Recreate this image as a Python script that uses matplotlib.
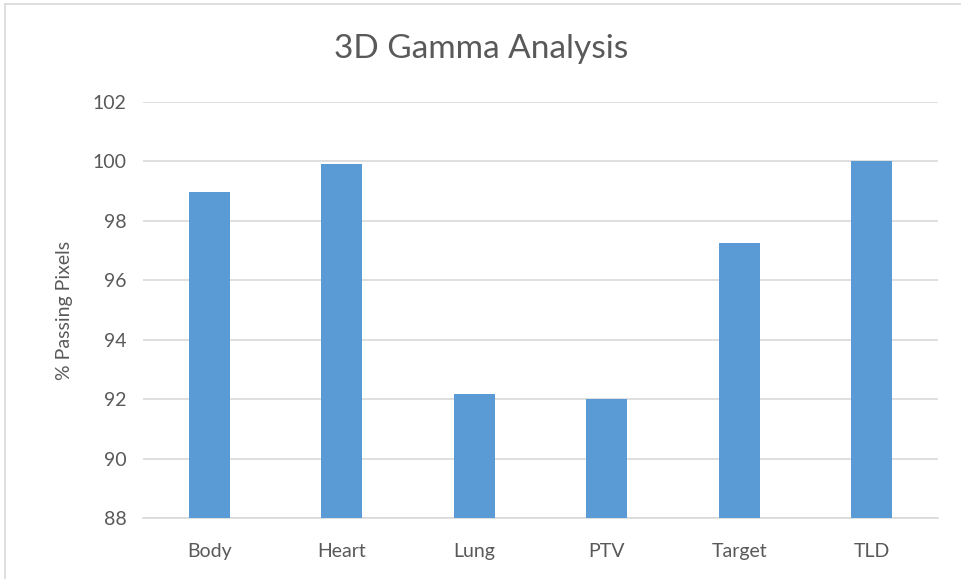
import matplotlib.pyplot as plt
from matplotlib.lines import Line2D

plt.rcParams['font.family'] = ['Lato', 'DejaVu Sans']

structures = ['Body', 'Heart', 'Lung', 'PTV', 'Target', 'TLD']
passing = [98.98, 99.93, 92.18, 92.02, 97.26, 100.0]
yticks = [88, 90, 92, 94, 96, 98, 100, 102]

text_grey = '#595959'

fig = plt.figure(figsize=(9.62, 5.79), dpi=100)
ax = fig.add_axes([143/962, 1 - 518/579, (938 - 143)/962, (518 - 102)/579])

ax.bar(range(len(structures)), passing, width=0.31, color='#5b9bd5', zorder=3)
ax.set_xlim(-0.5, len(structures) - 0.5)
ax.set_ylim(88, 102)
ax.set_yticks(yticks)
ax.set_xticks(range(len(structures)))
ax.set_xticklabels(structures)
ax.grid(axis='y', color='#d9d9d9', linewidth=1.2, zorder=0)
for side in ['top', 'right', 'left']:
    ax.spines[side].set_visible(False)
ax.spines['bottom'].set_color('#d9d9d9')
ax.spines['bottom'].set_linewidth(1.2)
ax.tick_params(axis='both', length=0, labelsize=14, labelcolor=text_grey)
ax.tick_params(axis='y', pad=12)
ax.tick_params(axis='x', pad=18)
ax.set_ylabel('% Passing Pixels', fontsize=14, color=text_grey, labelpad=14)

fig.text(0.5, 1 - 49/579, '3D Gamma Analysis', ha='center', va='center',
         fontsize=24, color=text_grey)

# chart area outline (left and top edges)
fig.add_artist(Line2D([5/962, 5/962], [0, 1 - 4/579], color='#d9d9d9', linewidth=1.2))
fig.add_artist(Line2D([5/962, 1], [1 - 4/579, 1 - 4/579], color='#d9d9d9', linewidth=1.2))

fig.savefig('out.png', dpi=100)
